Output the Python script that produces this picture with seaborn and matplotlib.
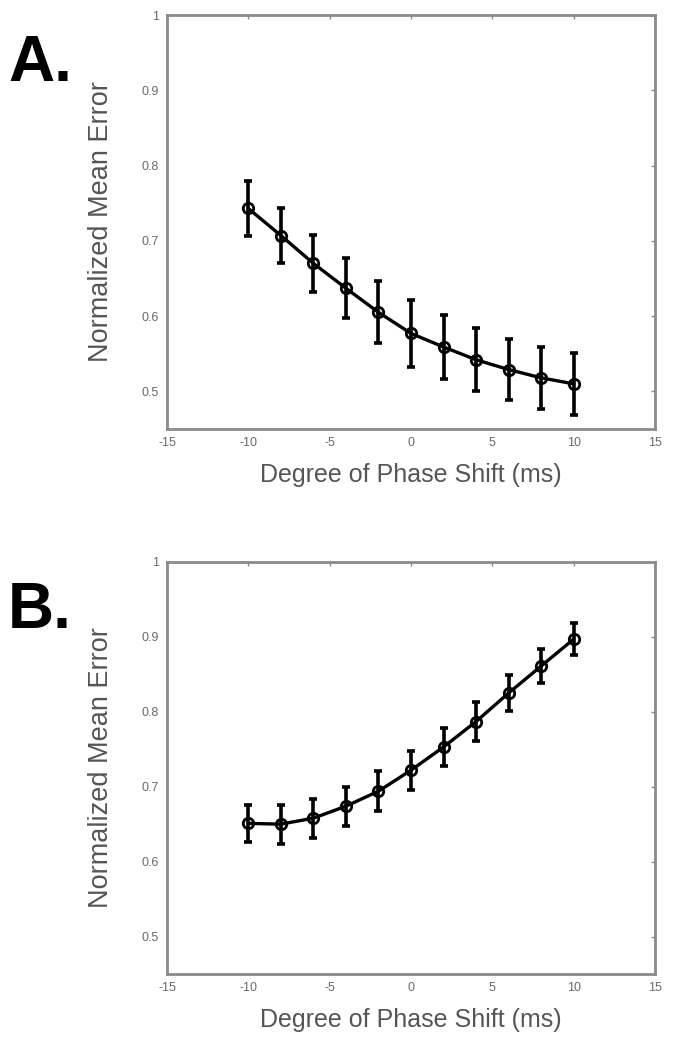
import matplotlib
matplotlib.use("Agg")
import matplotlib.pyplot as plt
import seaborn as sns
import pandas as pd

# phase shift values (ms)
shift = [-10, -8, -6, -4, -2, 0, 2, 4, 6, 8, 10]

# panel A: normalized mean error and error bar half-widths
err_a = [0.743, 0.707, 0.670, 0.637, 0.605, 0.577, 0.559, 0.542, 0.529, 0.518, 0.510]
sem_a = [0.036, 0.036, 0.038, 0.040, 0.041, 0.044, 0.043, 0.042, 0.041, 0.041, 0.041]

# panel B
err_b = [0.651, 0.650, 0.658, 0.674, 0.694, 0.722, 0.753, 0.787, 0.825, 0.861, 0.897]
sem_b = [0.025, 0.026, 0.026, 0.026, 0.027, 0.026, 0.026, 0.026, 0.024, 0.023, 0.021]

panel_labels = ["A.", "B."]
x_ticks = [-15, -10, -5, 0, 5, 10, 15]
y_ticks = [0.5, 0.6, 0.7, 0.8, 0.9, 1.0]
y_ticklabels = ["0.5", "0.6", "0.7", "0.8", "0.9", "1"]

sns.set_style("white")
plt.rcParams["font.family"] = ["Liberation Sans", "DejaVu Sans"]


def draw_panel(ax, y, yerr, label):
    df = pd.DataFrame({"shift": shift, "error": y})
    ax.errorbar(shift, y, yerr=yerr, fmt="none", ecolor="black",
                elinewidth=2.6, capsize=3, capthick=2.6, zorder=2)
    sns.lineplot(data=df, x="shift", y="error", ax=ax, color="black",
                 linewidth=2.4, marker="o", markersize=7.5,
                 markerfacecolor="none", markeredgecolor="black",
                 markeredgewidth=2.0, zorder=3)
    ax.set_xlim(-15, 15)
    ax.set_ylim(0.45, 1.0)
    ax.set_xticks(x_ticks)
    ax.set_xticklabels([str(t) for t in x_ticks])
    ax.set_yticks(y_ticks)
    ax.set_yticklabels(y_ticklabels)
    ax.tick_params(direction="in", length=3, width=1, colors="#888888",
                   labelcolor="#6a6a6a", labelsize=9, top=True, right=True,
                   pad=6)
    for s in ax.spines.values():
        s.set_color("#8a8a8a")
        s.set_linewidth(2)
    ax.set_xlabel("Degree of Phase Shift (ms)", fontsize=18, color="#555555",
                  labelpad=10)
    ax.set_ylabel("Normalized Mean Error", fontsize=19.5, color="#555555",
                  labelpad=20)
    ax.text(-0.326, 0.955, label, transform=ax.transAxes, fontsize=46,
            fontweight="bold", color="black", va="top", ha="left")


fig = plt.figure(figsize=(6.99, 10.38), dpi=100)
ax_a = fig.add_axes([0.239, 0.5867, 0.698, 0.3988])
ax_b = fig.add_axes([0.239, 0.0617, 0.698, 0.3969])

draw_panel(ax_a, err_a, sem_a, panel_labels[0])
draw_panel(ax_b, err_b, sem_b, panel_labels[1])

fig.savefig("out.png", dpi=100)
